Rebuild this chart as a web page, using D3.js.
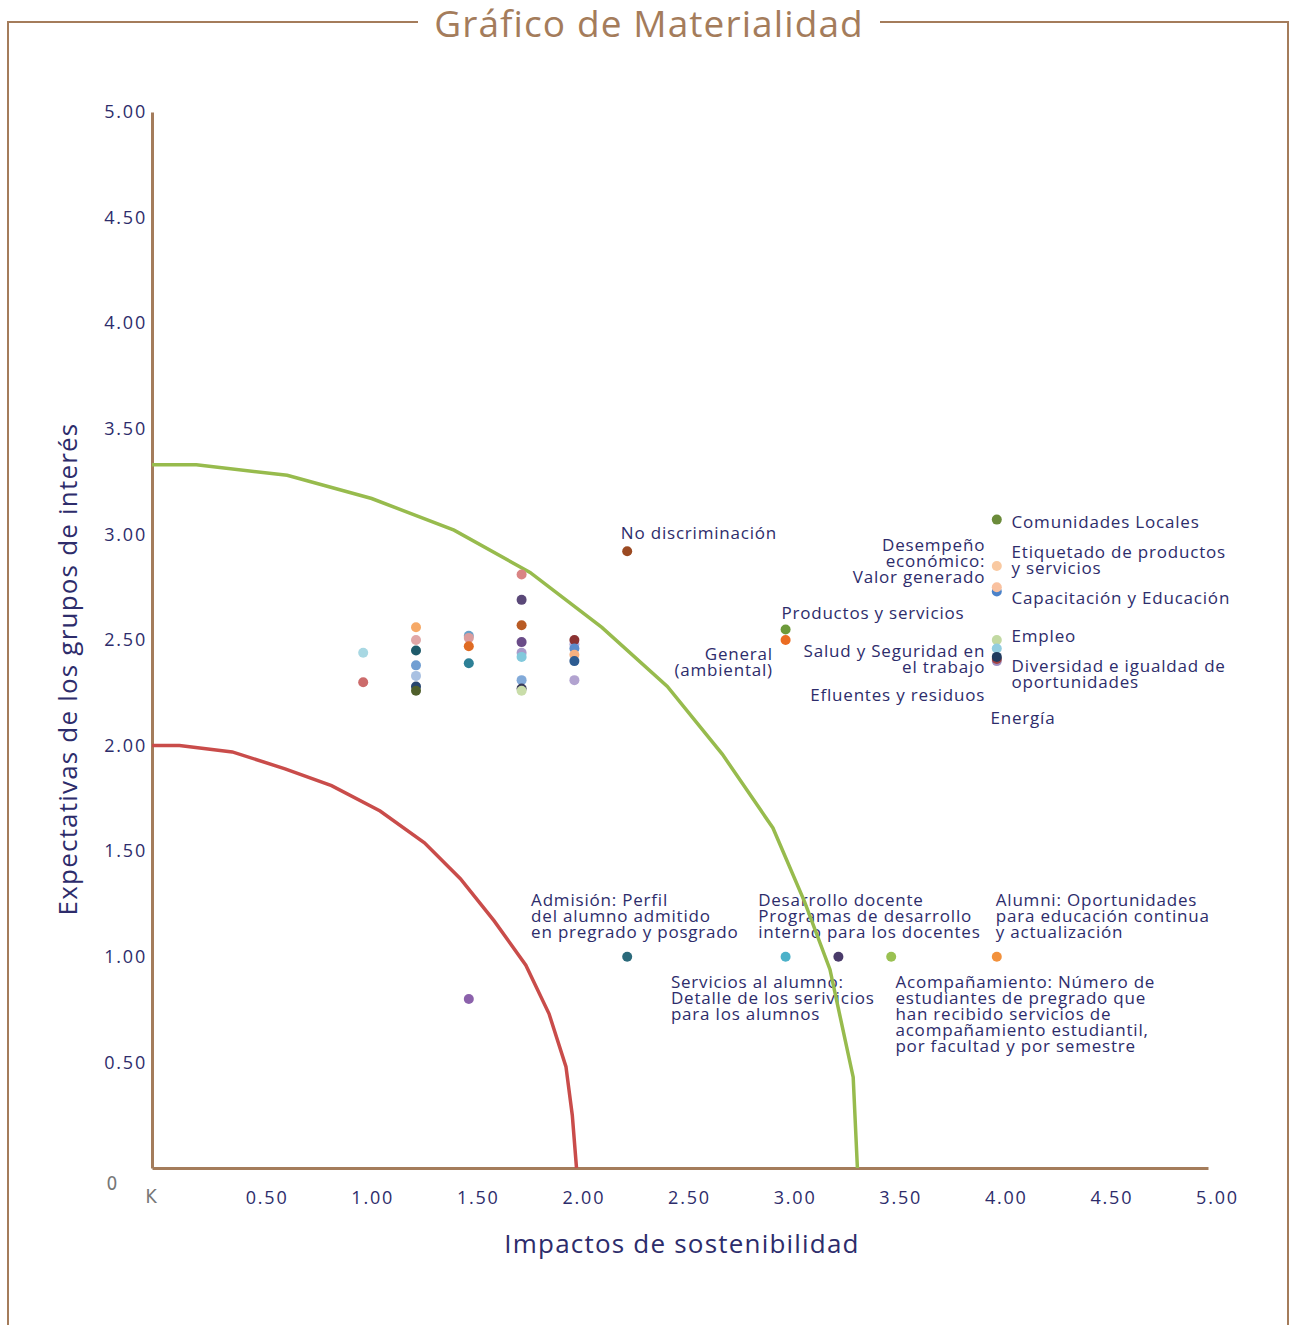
<!DOCTYPE html>
<html>
<head>
<meta charset="utf-8">
<script src="https://cdn.jsdelivr.net/npm/d3@7"></script>
<style>
  body { margin: 0; background: #fff; }
  svg text { font-family: "Open Sans", sans-serif; }
</style>
</head>
<body>
<svg id="chart" width="1290" height="1325"></svg>
<script>
// valores
const impactos = [1.0, 1.0,
    1.25, 1.25, 1.25, 1.25, 1.25, 1.25, 1.25,
    1.5, 1.5, 1.5, 1.5,
    1.75, 1.75, 1.75, 1.75, 1.75, 1.75, 1.75, 1.75, 1.75,
    2.0, 2.0, 2.0, 2.0, 2.0, 2.0,
    2.25, 2.25, 1.5,
    3.0, 3.0, 3.0, 3.25, 3.5,
    4.0, 4.0, 4.0, 4.0, 4.0, 4.0, 4.0, 4.0, 4.0, 4.0];
const expectativas = [2.44, 2.30,
    2.56, 2.50, 2.45, 2.38, 2.33, 2.28, 2.26,
    2.52, 2.51, 2.47, 2.39,
    2.81, 2.69, 2.57, 2.49, 2.44, 2.42, 2.31, 2.27, 2.26,
    2.48, 2.50, 2.46, 2.43, 2.40, 2.31,
    2.92, 1.0, 0.80,
    2.55, 2.50, 1.0, 1.0, 1.0,
    1.0, 3.07, 2.85, 2.73, 2.75, 2.50, 2.46, 2.40, 2.41, 2.42];
const colores = ["#a8d8e3", "#cc6b6b",
    "#f6a967", "#e0a7a7", "#1f5b6b", "#729fd2", "#a9c1e2", "#28466f", "#4f5f2b",
    "#6aa0c8", "#dc9c9c", "#df6b23", "#2d8096",
    "#d98484", "#5a4878", "#b95b24", "#6a4c88", "#a99ac9", "#82c9dc", "#82aad9", "#3a3a5a", "#c9dda9",
    "#b0a8d8", "#8b3232", "#5b8bcb", "#f6b080", "#2d5b91", "#b2a3d0",
    "#9b4a22", "#2b6a7b", "#8b61ab",
    "#6d9a3a", "#eb6c22", "#4cb1c9", "#4a3b6a", "#9ac152",
    "#f2913c", "#6b8b3a", "#f9c9a1", "#4b82c9", "#f9c19f", "#c2d9a2", "#92cde0", "#a191c1", "#a24242", "#1f3b5f"];

const curvaVerde = [[0, 3.33], [0.21, 3.33], [0.64, 3.28], [1.04, 3.17], [1.43, 3.02], [1.79, 2.82],
    [2.13, 2.56], [2.44, 2.28], [2.70, 1.96], [2.94, 1.61], [3.09, 1.26], [3.21, 0.94],
    [3.32, 0.43], [3.34, 0]];
const curvaRoja = [[0, 2.0], [0.13, 2.0], [0.38, 1.97], [0.63, 1.89], [0.85, 1.81], [1.08, 1.69],
    [1.29, 1.54], [1.46, 1.37], [1.62, 1.17], [1.77, 0.96], [1.88, 0.73], [1.96, 0.48],
    [1.99, 0.25], [2.01, 0]];

const ticks = [0.5, 1.0, 1.5, 2.0, 2.5, 3.0, 3.5, 4.0, 4.5, 5.0];

// etiquetas: texto, posicion (en unidades de datos) y alineacion
const etiquetas = [
    { lineas: ["No discriminación"], x: 2.22, y: 2.98, anchor: "start" },
    { lineas: ["Comunidades Locales"], x: 4.07, y: 3.03, anchor: "start" },
    { lineas: ["Desempeño", "económico:", "Valor generado"], x: 3.945, y: 2.92, anchor: "end" },
    { lineas: ["Etiquetado de productos", "y servicios"], x: 4.07, y: 2.89, anchor: "start" },
    { lineas: ["Capacitación y Educación"], x: 4.07, y: 2.67, anchor: "start" },
    { lineas: ["Productos y servicios"], x: 2.98, y: 2.60, anchor: "start" },
    { lineas: ["Empleo"], x: 4.07, y: 2.49, anchor: "start" },
    { lineas: ["General", "(ambiental)"], x: 2.94, y: 2.405, anchor: "end" },
    { lineas: ["Salud y Seguridad en", "el trabajo"], x: 3.945, y: 2.42, anchor: "end" },
    { lineas: ["Diversidad e igualdad de", "oportunidades"], x: 4.07, y: 2.35, anchor: "start" },
    { lineas: ["Efluentes y residuos"], x: 3.945, y: 2.21, anchor: "end" },
    { lineas: ["Energía"], x: 3.97, y: 2.10, anchor: "start" },
    { lineas: ["Admisión: Perfil", "del alumno admitido", "en pregrado y posgrado"], x: 1.795, y: 1.240, anchor: "start" },
    { lineas: ["Desarrollo docente", "Programas de desarrollo", "interno para los docentes"], x: 2.87, y: 1.240, anchor: "start" },
    { lineas: ["Alumni: Oportunidades", "para educación continua", "y actualización"], x: 3.995, y: 1.240, anchor: "start" },
    { lineas: ["Servicios al alumno:", "Detalle de los serivicios", "para los alumnos"], x: 2.457, y: 0.852, anchor: "start" },
    { lineas: ["Acompañamiento: Número de", "estudiantes de pregrado que", "han recibido servicios de",
        "acompañamiento estudiantil,", "por facultad y por semestre"], x: 3.52, y: 0.852, anchor: "start" }
];

const marron = "#a47c5b";
const azul = "#2d2c6b";

const svg = d3.select("#chart");

// marco y titulo
svg.append("path")
    .attr("d", "M418,22 H8 V1325 M880,22 H1288 V1325")
    .attr("fill", "none")
    .attr("stroke", marron)
    .attr("stroke-width", 2);

svg.append("text")
    .attr("x", 649).attr("y", 37)
    .attr("text-anchor", "middle")
    .attr("font-size", 37)
    .attr("letter-spacing", 1.1)
    .attr("fill", marron)
    .text("Gráfico de Materialidad");

const x = d3.scaleLinear().domain([0, 5]).range([152, 1208]);
const y = d3.scaleLinear().domain([0, 5]).range([1168, 112]);

const xAxis = svg.append("g")
    .attr("transform", "translate(0,1168)")
    .call(d3.axisBottom(x).tickValues(ticks).tickFormat(d3.format(".2f")).tickSize(0).tickPadding(23));
xAxis.selectAll("text").attr("x", 9);

const yAxis = svg.append("g")
    .attr("transform", "translate(152,0)")
    .call(d3.axisLeft(y).tickValues(ticks).tickFormat(d3.format(".2f")).tickSize(0).tickPadding(5));

[xAxis, yAxis].forEach(a => {
    a.select(".domain").attr("stroke", marron).attr("stroke-width", 3);
    a.selectAll("text")
        .attr("font-size", 18)
        .attr("letter-spacing", 1.8)
        .attr("fill", azul)
        .style("font-family", "'Open Sans', sans-serif");
});

// restos grises del original
svg.append("text").attr("x", 112).attr("y", 1190).attr("text-anchor", "middle")
    .attr("font-size", 19).attr("fill", "#777")
    .style("font-family", "'DejaVu Sans Condensed', sans-serif").text("0");
svg.append("text").attr("x", 151).attr("y", 1203).attr("text-anchor", "middle")
    .attr("font-size", 19).attr("fill", "#777")
    .style("font-family", "'DejaVu Sans Condensed', sans-serif").text("K");

// titulos de ejes
svg.append("text")
    .attr("x", 682).attr("y", 1253)
    .attr("text-anchor", "middle")
    .attr("font-size", 26)
    .attr("letter-spacing", 1.2)
    .attr("fill", azul)
    .text("Impactos de sostenibilidad");

svg.append("text")
    .attr("transform", "translate(77,669) rotate(-90)")
    .attr("text-anchor", "middle")
    .attr("font-size", 26)
    .attr("letter-spacing", 1.2)
    .attr("fill", azul)
    .text("Expectativas de los grupos de interés");

// etiquetas
const et = svg.append("g").attr("font-size", 17).attr("letter-spacing", 0.8).attr("fill", azul);
etiquetas.forEach(e => {
    const t = et.append("text")
        .attr("x", x(e.x))
        .attr("y", y(e.y))
        .attr("text-anchor", e.anchor);
    e.lineas.forEach((l, i) => {
        t.append("tspan").attr("x", x(e.x)).attr("dy", i === 0 ? 0 : 16).text(l);
    });
});

// curvas
const linea = d3.line().x(d => x(d[0])).y(d => y(d[1]));
svg.append("path").datum(curvaRoja)
    .attr("d", linea).attr("fill", "none")
    .attr("stroke", "#c94c4a").attr("stroke-width", 3.5);
svg.append("path").datum(curvaVerde)
    .attr("d", linea).attr("fill", "none")
    .attr("stroke", "#97bb4d").attr("stroke-width", 3.5);

// puntos
svg.append("g").selectAll("circle")
    .data(impactos)
    .join("circle")
    .attr("cx", d => x(d))
    .attr("cy", (d, i) => y(expectativas[i]))
    .attr("r", 5)
    .attr("fill", (d, i) => colores[i]);
</script>
</body>
</html>
